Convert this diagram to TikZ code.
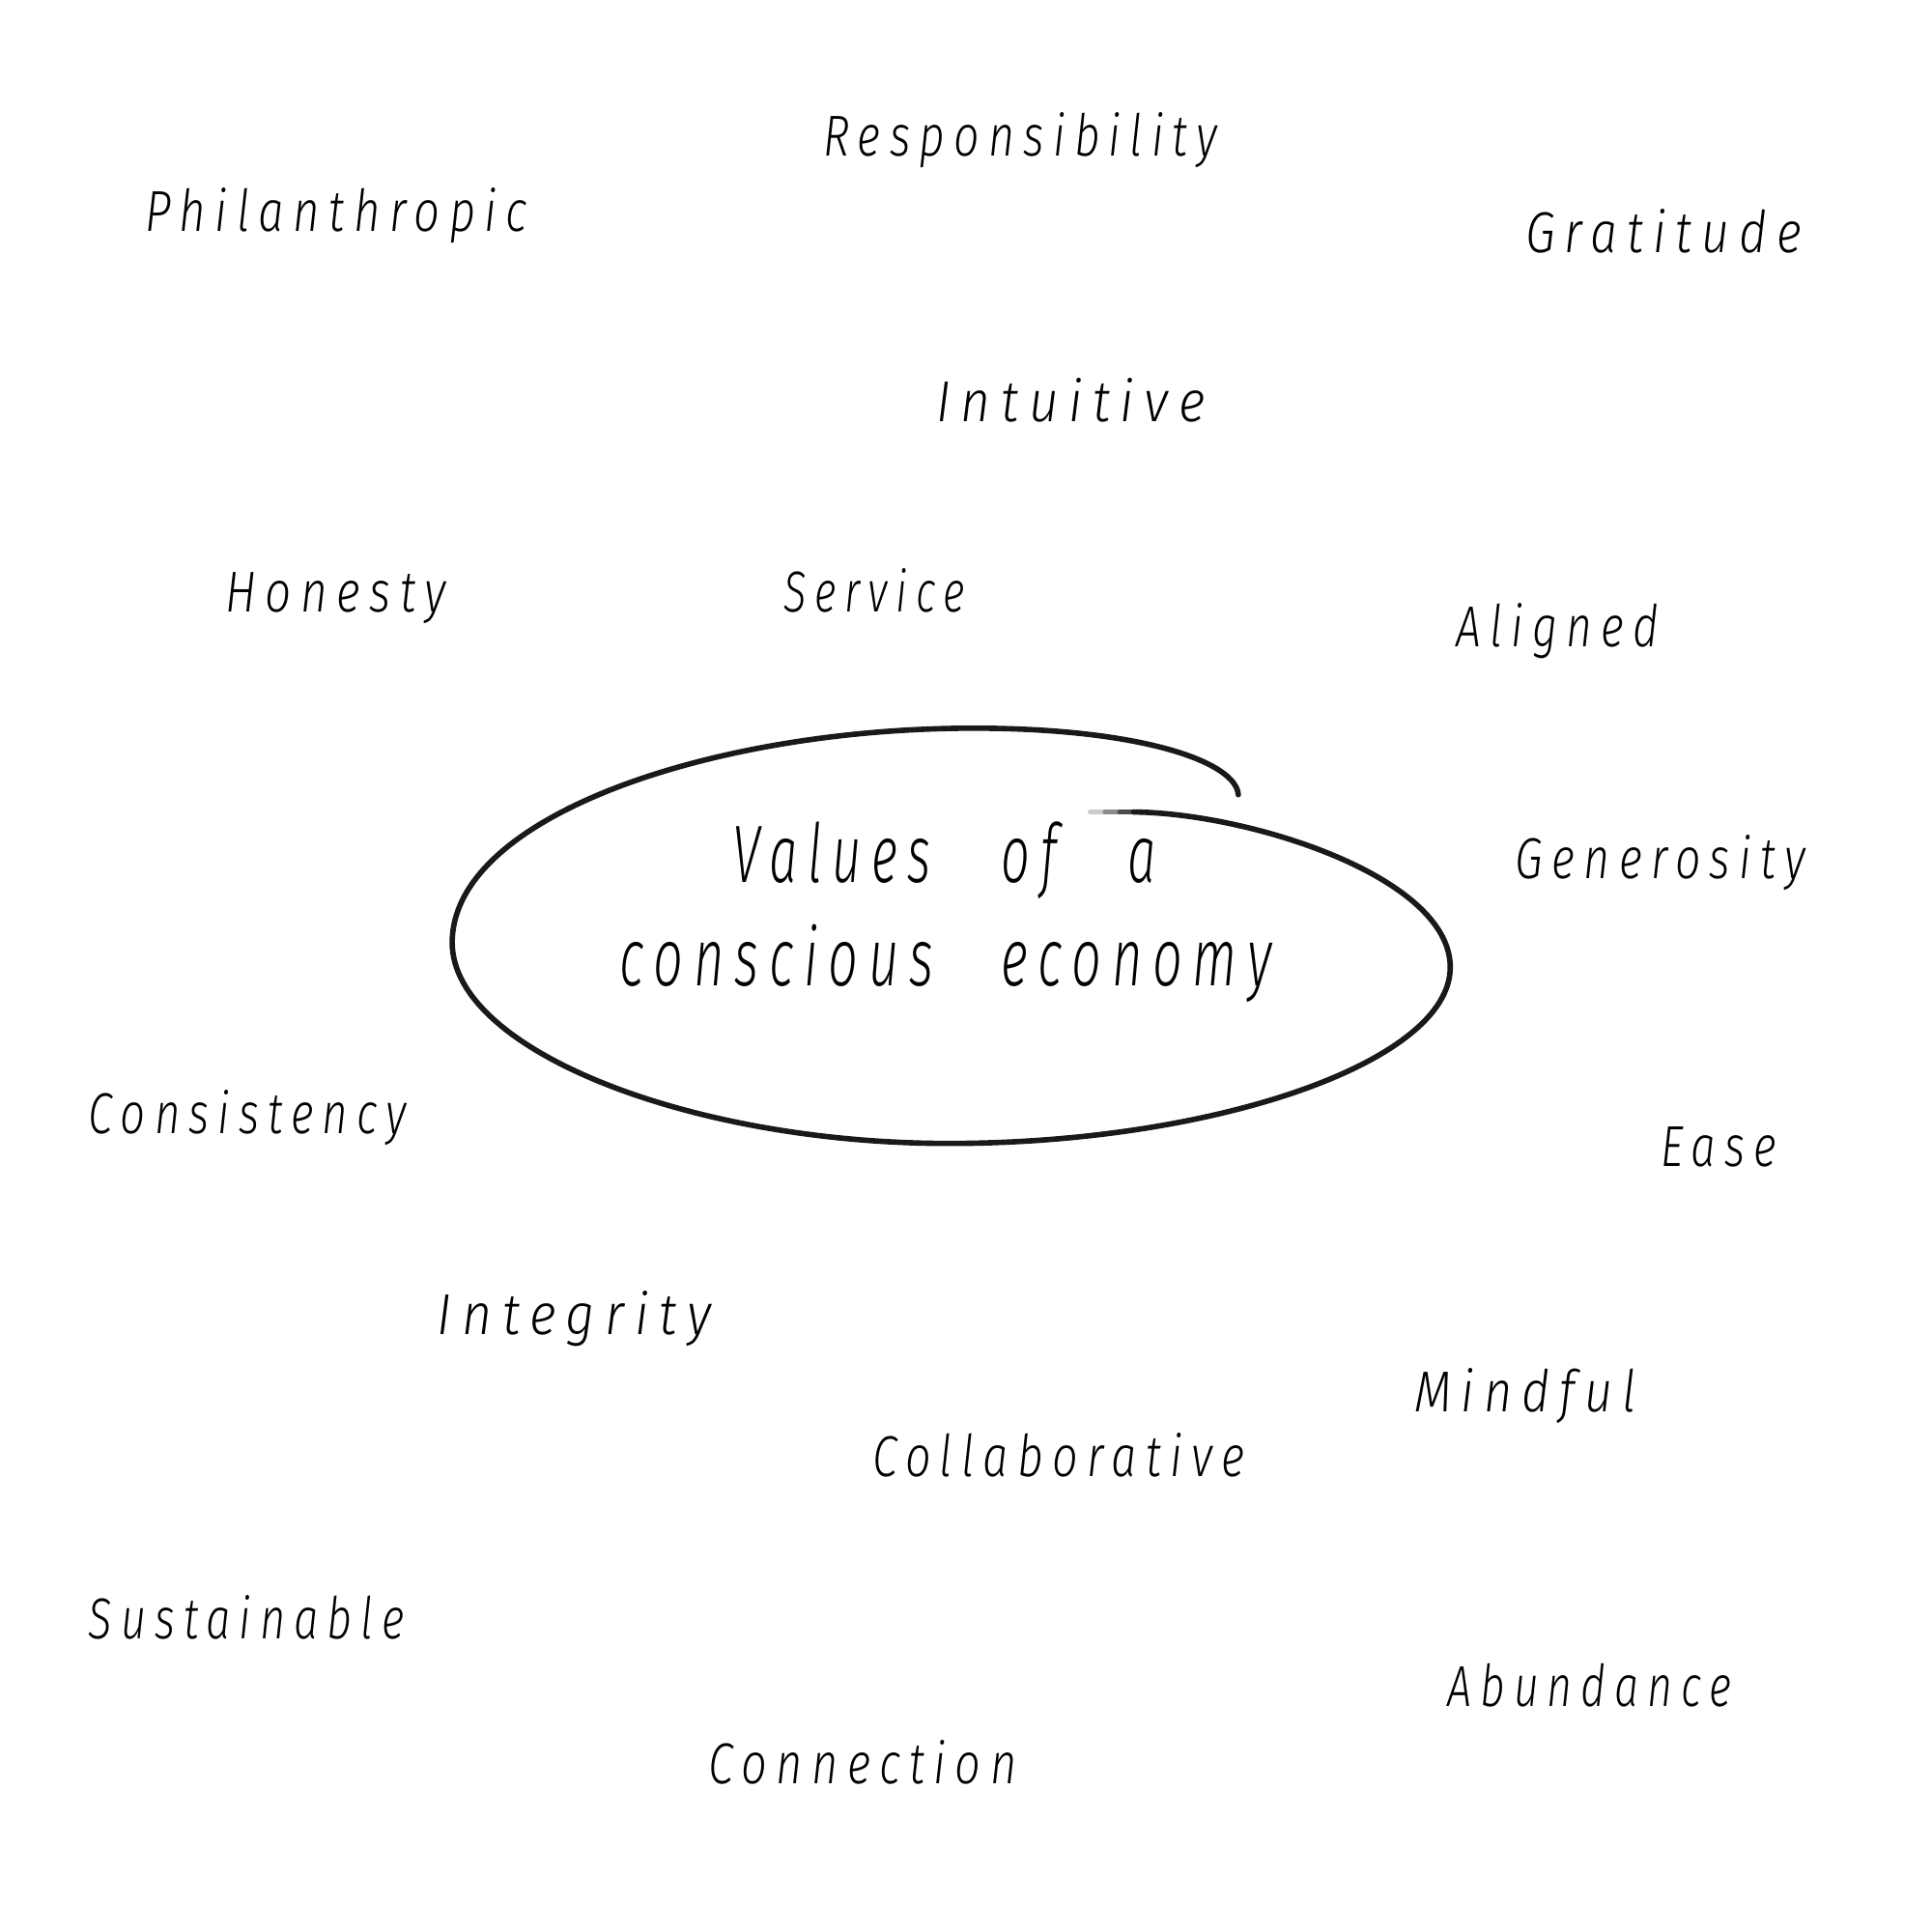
\documentclass[tikz,border=0pt]{standalone}
\usepackage{fontspec}
\usepackage{graphicx}
\newfontfamily\hand{Fira Sans Light Italic}[LetterSpace=20]
\newlength\du
\setlength\du{0.012755cm}
\newcommand\lbl[2]{\resizebox{#1\du}{\height}{#2}}
\tikzset{
  word/.style={inner sep=0pt, outer sep=0pt, anchor=base west, font=\hand\fontsize{17}{20}\selectfont},
  title/.style={inner sep=0pt, outer sep=0pt, anchor=base west, font=\hand\fontsize{24}{28}\selectfont},
  loop/.style={line width=1.6pt, line cap=round, line join=round, draw=black!90}
}
\begin{document}
\begin{tikzpicture}[x={(0.012755cm,0cm)}, y={(0cm,-0.012755cm)}]
\useasboundingbox[fill=white] (0,0) rectangle (1568,1568);
% words
\node[word] (resp) at (668,127) {\lbl{320}{Responsibility}};
\node[word] (phil) at (118,188) {\lbl{310}{Philanthropic}};
\node[word] (grat) at (1238,205) {\lbl{224}{Gratitude}};
\node[word] (intu) at (760,342) {\lbl{218}{Intuitive}};
\node[word] (hone) at (183,497) {\lbl{179}{Honesty}};
\node[word] (serv) at (636,497) {\lbl{147}{Service}};
\node[word] (alig) at (1182,525) {\lbl{164}{Aligned}};
\node[word] (gene) at (1230,713) {\lbl{235}{Generosity}};
\node[word] (cons) at (72,920) {\lbl{258}{Consistency}};
\node[word] (ease) at (1348,947) {\lbl{94}{Ease}};
\node[word] (inte) at (355,1083) {\lbl{222}{Integrity}};
\node[word] (mind) at (1148,1146) {\lbl{180}{Mindful}};
\node[word] (coll) at (708,1198) {\lbl{302}{Collaborative}};
\node[word] (sust) at (72,1330) {\lbl{256}{Sustainable}};
\node[word] (abun) at (1175,1385) {\lbl{230}{Abundance}};
\node[word] (conn) at (575,1448) {\lbl{250}{Connection}};
% centre
\node[title] (t1) at (595,716) {\lbl{343}{Values\hspace{1.4em}of\hspace{1.4em}a}};
\node[title] (t2) at (503,800) {\lbl{529}{conscious\hspace{1.3em}economy}};
% hand-drawn loop
\draw[line width=1.6pt, line cap=round, draw=black!20] (885,659) -- (900,659);
\draw[line width=1.6pt, line cap=round, draw=black!45] (897,659) -- (912,659);
\draw[line width=1.6pt, line cap=round, draw=black!70] (909,659) -- (922,659);
\draw[loop] (920,659) .. controls (1015,660) and (1177,712) .. (1177,785)
  .. controls (1177,862) and (985,928) .. (770,928)
  .. controls (560,928) and (367,852) .. (367,765)
  .. controls (367,662) and (580,591) .. (790,591)
  .. controls (925,591) and (1003,618) .. (1005,645);
\end{tikzpicture}
\end{document}
